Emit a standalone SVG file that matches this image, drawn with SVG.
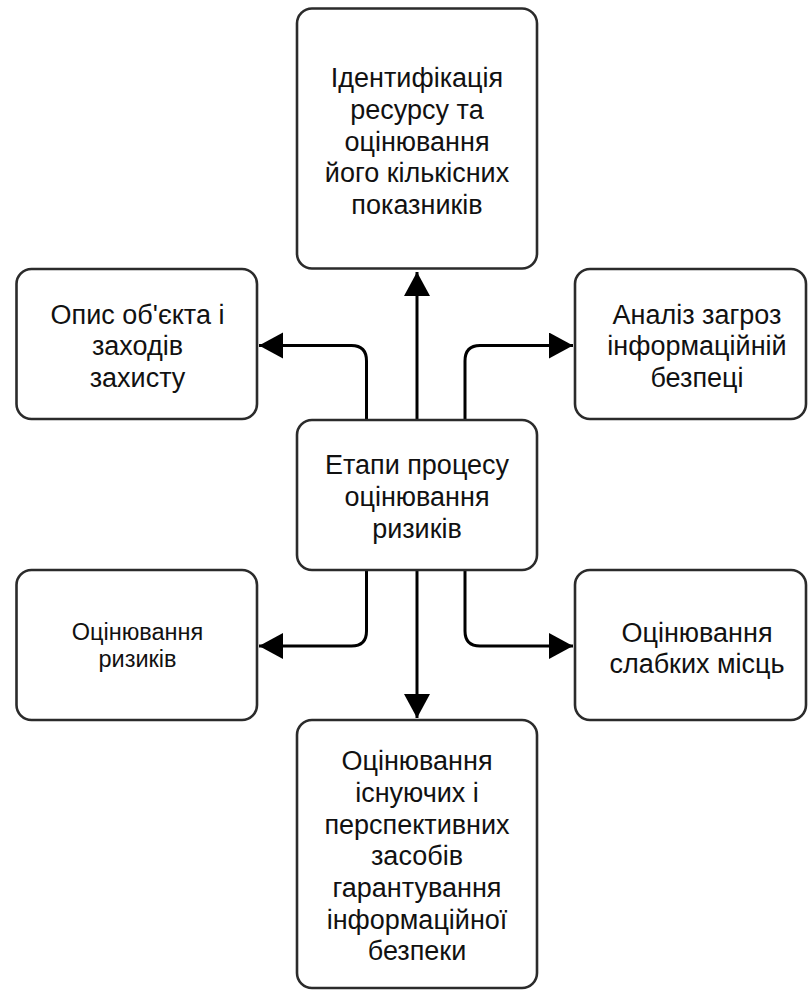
<svg xmlns="http://www.w3.org/2000/svg" width="808" height="998" viewBox="0 0 808 998">
  <style>
    .box { fill: #ffffff; stroke: #2b2b2b; stroke-width: 2.6; }
    .edge { fill: none; stroke: #000000; stroke-width: 3; }
    text { font-family: "Liberation Sans", Arial, sans-serif; font-size: 27px; fill: #111111; text-anchor: middle; }
    .small { font-size: 23.5px; }
  </style>
  <defs>
    <marker id="arrow" markerUnits="userSpaceOnUse" markerWidth="26" markerHeight="28" refX="24" refY="13" orient="auto">
      <path d="M0,0 L24,13 L0,26 Z" fill="#000000"/>
    </marker>
  </defs>

  <rect width="808" height="998" fill="#ffffff"/>

  <!-- connectors from the central node -->
  <g id="connectors">
    <path class="edge" d="M417,420 L417,272" marker-end="url(#arrow)"/>
    <path class="edge" d="M366.5,420 L366.5,361 Q366.5,345.5 351.5,345.5 L259,345.5" marker-end="url(#arrow)"/>
    <path class="edge" d="M465,420 L465,361 Q465,345.5 480,345.5 L573,345.5" marker-end="url(#arrow)"/>
    <path class="edge" d="M366.5,570 L366.5,631 Q366.5,646 351.5,646 L259,646" marker-end="url(#arrow)"/>
    <path class="edge" d="M465,570 L465,631 Q465,646 480,646 L573,646" marker-end="url(#arrow)"/>
    <path class="edge" d="M417,570 L417,718" marker-end="url(#arrow)"/>
  </g>

  <g id="node-center">
    <rect class="box" x="297" y="420" width="240" height="150" rx="15"/>
    <text x="417" y="474">Етапи процесу</text>
    <text x="417" y="506">оцінювання</text>
    <text x="417" y="538">ризиків</text>
  </g>

  <g id="node-top">
    <rect class="box" x="297" y="8.5" width="240" height="260" rx="15"/>
    <text x="417" y="87">Ідентифікація</text>
    <text x="417" y="119">ресурсу та</text>
    <text x="417" y="150.5">оцінювання</text>
    <text x="417" y="182">його кількісних</text>
    <text x="417" y="214">показників</text>
  </g>

  <g id="node-top-left">
    <rect class="box" x="16.5" y="269" width="240.5" height="150" rx="15"/>
    <text x="137.5" y="323.5">Опис об'єкта і</text>
    <text x="137.5" y="355">заходів</text>
    <text x="137.5" y="387">захисту</text>
  </g>

  <g id="node-top-right">
    <rect class="box" x="575" y="269" width="231" height="150" rx="15"/>
    <text x="697" y="323.5">Аналіз загроз</text>
    <text x="697" y="355">інформаційній</text>
    <text x="697" y="387">безпеці</text>
  </g>

  <g id="node-bottom-left">
    <rect class="box" x="16.5" y="570" width="240.5" height="150" rx="15"/>
    <text class="small" x="137.5" y="640">Оцінювання</text>
    <text class="small" x="137.5" y="667">ризиків</text>
  </g>

  <g id="node-bottom-right">
    <rect class="box" x="575" y="570" width="231" height="150" rx="15"/>
    <text x="697" y="642">Оцінювання</text>
    <text x="697" y="673">слабких місць</text>
  </g>

  <g id="node-bottom">
    <rect class="box" x="297" y="720" width="240" height="268" rx="15"/>
    <text x="417" y="770">Оцінювання</text>
    <text x="417" y="802">існуючих і</text>
    <text x="417" y="833.5">перспективних</text>
    <text x="417" y="865">засобів</text>
    <text x="417" y="897">гарантування</text>
    <text x="417" y="928.5">інформаційної</text>
    <text x="417" y="960">безпеки</text>
  </g>
</svg>
